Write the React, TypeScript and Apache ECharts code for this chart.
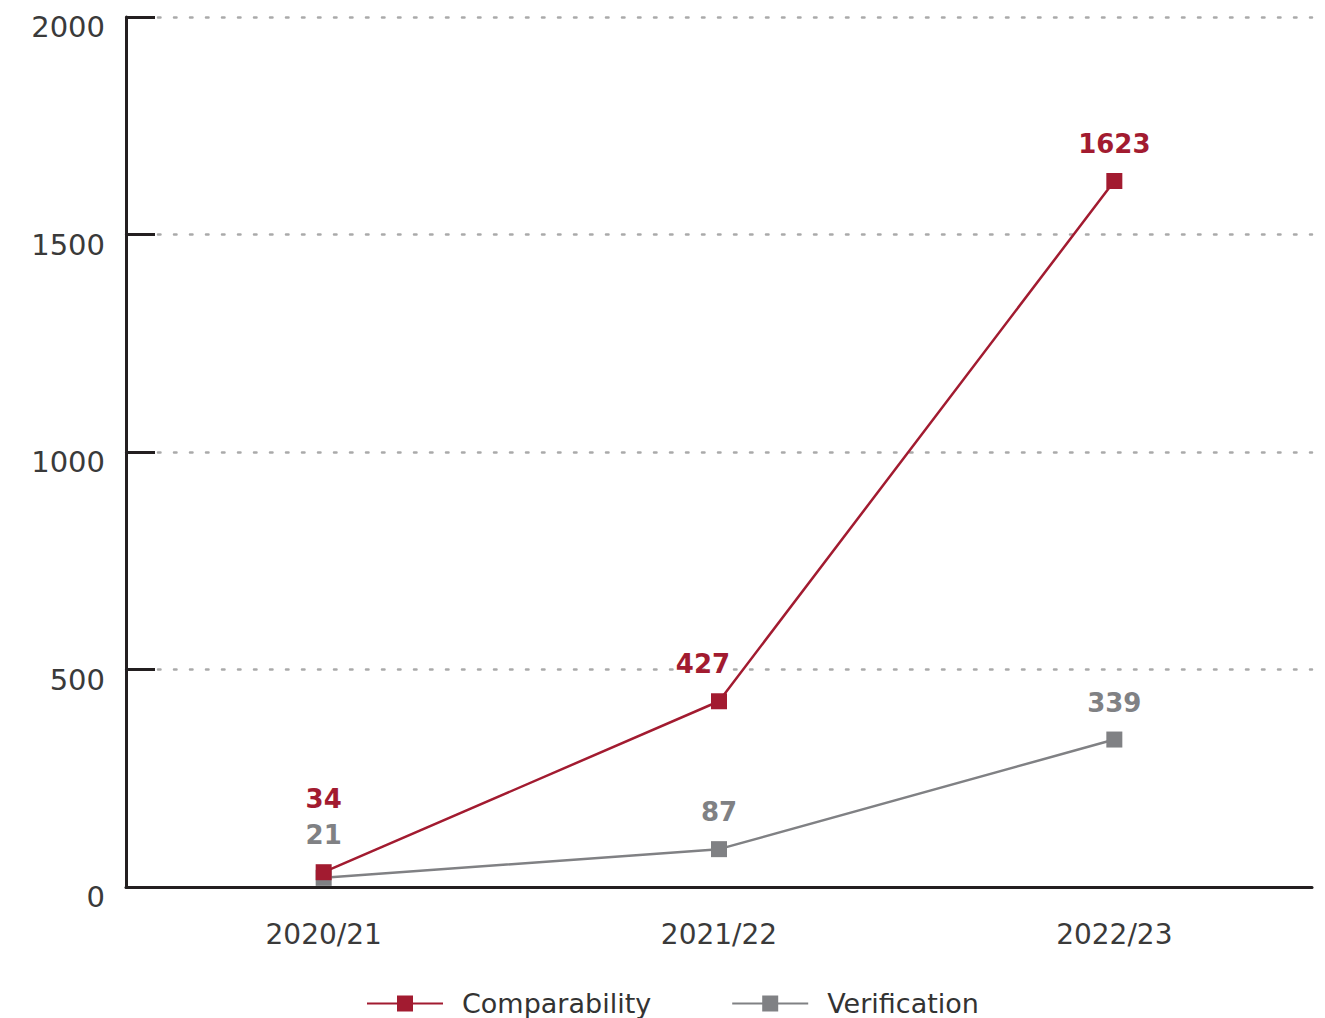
import React, { useEffect, useRef } from "react";
import * as echarts from "echarts";

const categories = ["2020/21", "2021/22", "2022/23"];
const comparability = [34, 427, 1623];
const verification = [21, 87, 339];
const yTicks = [0, 500, 1000, 1500, 2000];

const RED = "#A21B30";
const GRAY = "#808184";
const DARK = "#231F20";
const FONT = "DejaVu Sans";

export default function App() {
  const ref = useRef<HTMLDivElement>(null);
  useEffect(() => {
    if (!ref.current) return;
    const chart = echarts.init(ref.current, undefined, { renderer: "svg" });
    const labelBase = {
      show: true,
      position: "top" as const,
      distance: 16,
      fontFamily: FONT,
      fontWeight: "bold" as const,
      fontSize: 26,
    };
    chart.setOption({
      animation: false,
      backgroundColor: "#ffffff",
      grid: { left: 126, right: 13, top: 17, bottom: 131, containLabel: false },
      legend: {
        top: 985,
        left: 361,
        itemWidth: 76,
        itemHeight: 20,
        itemGap: 80,
        textStyle: { fontFamily: FONT, fontSize: 27, color: "#333", padding: [0, 0, 0, 14] },
        data: ["Comparability", "Verification"],
      },
      xAxis: {
        type: "category",
        data: categories,
        boundaryGap: true,
        axisLine: { lineStyle: { color: DARK, width: 3 } },
        axisTick: { alignWithLabel: true, inside: true, length: 22, lineStyle: { color: DARK, width: 3 } },
        axisLabel: { fontFamily: FONT, fontSize: 28, color: "#3a3a3a", margin: 33 },
      },
      yAxis: {
        type: "value",
        min: yTicks[0],
        max: yTicks[yTicks.length - 1],
        interval: yTicks[1] - yTicks[0],
        axisLine: { show: true, lineStyle: { color: DARK, width: 3 } },
        axisTick: { show: true, inside: true, length: 29, lineStyle: { color: DARK, width: 3 } },
        axisLabel: {
          fontFamily: FONT,
          fontSize: 29,
          color: "#3a3a3a",
          margin: 21,
          formatter: (v: number) => "{a|" + String(v) + "}",
          rich: { a: { fontFamily: FONT, fontSize: 29, color: "#3a3a3a", padding: [20, 0, 0, 0] } },
        },
        splitLine: { show: true, lineStyle: { color: "#aaaaaa", width: 2.5, type: [2.5, 13.5], cap: "round" } },
      },
      series: [
        {
          name: "Verification",
          type: "line",
          data: verification.map((v, i) =>
            i === 0 ? { value: v, label: { distance: 22 } } : v
          ),
          symbol: "rect",
          symbolSize: 16,
          color: GRAY,
          lineStyle: { color: GRAY, width: 2.5 },
          itemStyle: { color: GRAY },
          label: { ...labelBase, color: GRAY },
          z: 2,
        },
        {
          name: "Comparability",
          type: "line",
          data: comparability.map((v, i) => {
            if (i === 0) return { value: v, label: { distance: 52 } };
            if (i === 1) return { value: v, label: { offset: [-16, 0] } };
            return v;
          }),
          symbol: "rect",
          symbolSize: 16,
          color: RED,
          lineStyle: { color: RED, width: 2.5 },
          itemStyle: { color: RED },
          label: { ...labelBase, color: RED },
          z: 3,
        },
      ],
    });
    return () => chart.dispose();
  }, []);
  return (
    <div
      ref={ref}
      style={{ position: "absolute", left: 0, top: 0, width: 1325, height: 1018 }}
    />
  );
}
